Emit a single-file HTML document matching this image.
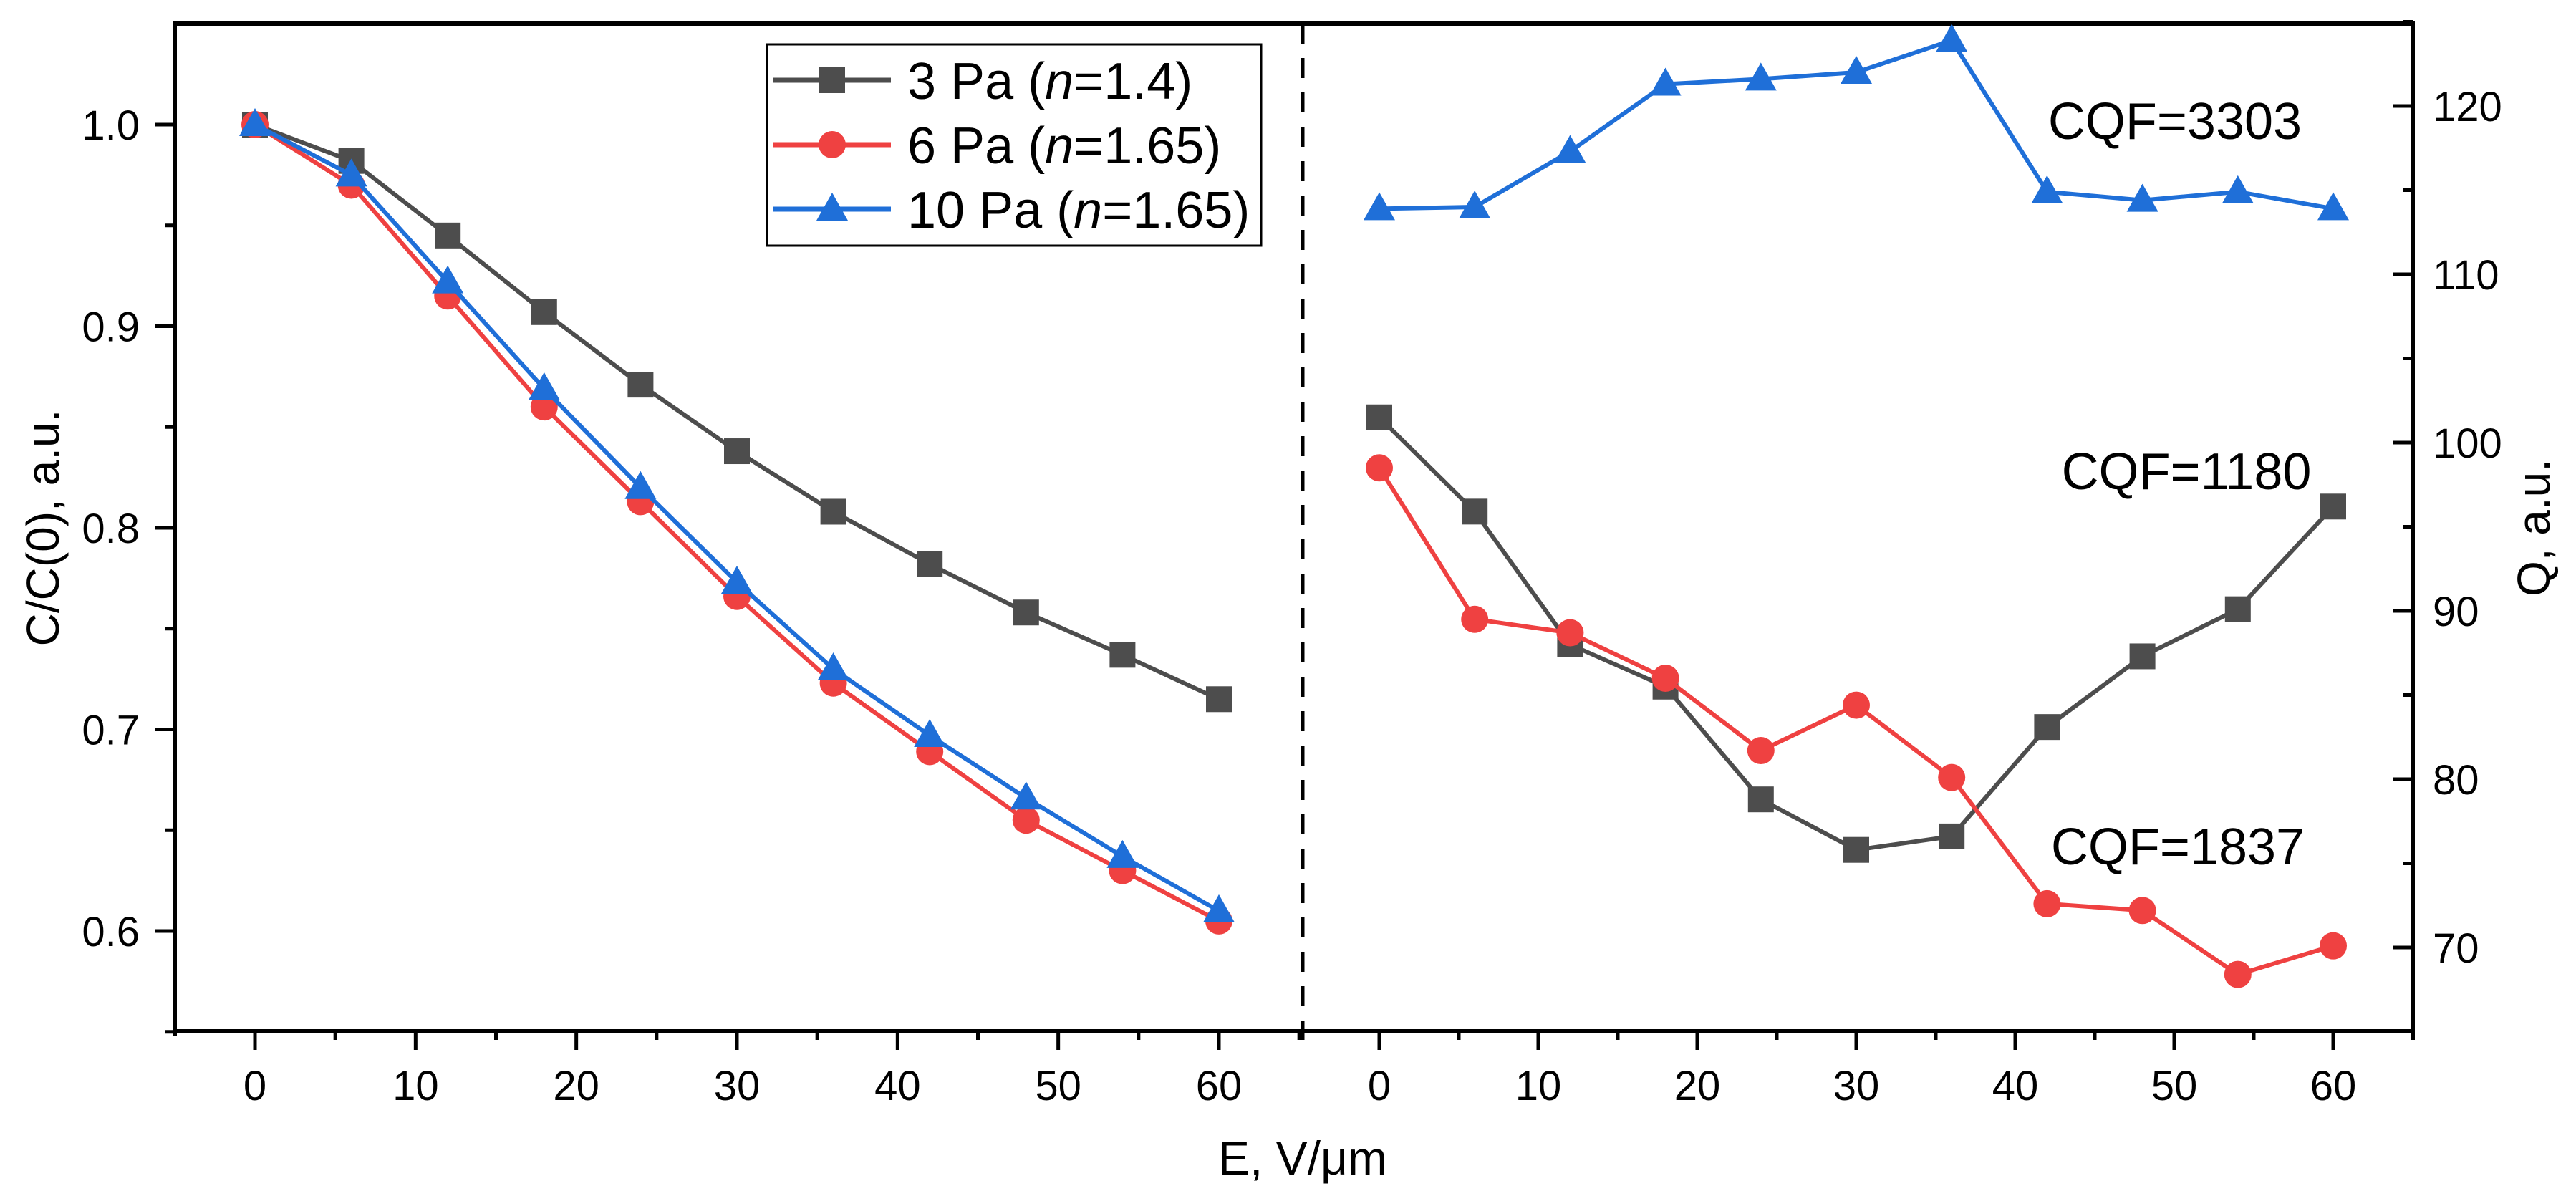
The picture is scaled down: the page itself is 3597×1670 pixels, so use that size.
<!DOCTYPE html>
<html><head><meta charset="utf-8"><style>
html,body{margin:0;padding:0;background:#fff;}
svg{display:block;font-family:"Liberation Sans",sans-serif;}
</style></head><body>
<svg id="chart" width="3597" height="1670" viewBox="0 0 3597 1670">
<g id="axes"></g>
<g id="series"></g>
<g id="legend">
<rect x="1071" y="62" width="690" height="281" fill="#fff" stroke="#000" stroke-width="3"/>
</g>
<text x="3037" y="194" font-size="72" text-anchor="middle">CQF=3303</text>
<text x="3053" y="683" font-size="72" text-anchor="middle">CQF=1180</text>
<text x="3041" y="1207" font-size="72" text-anchor="middle">CQF=1837</text>
<text x="1819" y="1640" font-size="66" text-anchor="middle">E, V/μm</text>
<text transform="translate(82,737) rotate(-90)" font-size="64" text-anchor="middle">C/C(0), a.u.</text>
<text transform="translate(3560,737) rotate(-90)" font-size="64" text-anchor="middle">Q, a.u.</text>
</svg>
<script>
const xValues=[0,6,12,18,24,30,36,42,48,54,60];
const xTicks=[0,10,20,30,40,50,60];
const leftTicks=[0.6,0.7,0.8,0.9,1.0];
const rightTicks=[70,80,90,100,110,120];
const c3Pa=[1.0,0.982,0.945,0.907,0.871,0.838,0.808,0.782,0.758,0.737,0.715];
const c6Pa=[1.0,0.970,0.915,0.860,0.813,0.766,0.723,0.689,0.655,0.630,0.605];
const c10Pa=[1.0,0.975,0.922,0.869,0.820,0.773,0.730,0.697,0.666,0.637,0.610];
const q3Pa=[101.5,95.9,88.0,85.5,78.8,75.8,76.6,83.1,87.3,90.1,96.2];
const q6Pa=[98.5,89.5,88.7,86.0,81.7,84.4,80.1,72.6,72.2,68.4,70.1];
const q10Pa=[113.9,114.0,117.3,121.3,121.6,122.0,123.9,114.9,114.4,114.9,113.9];

const NS="http://www.w3.org/2000/svg";
const L=244,R=3369,T=33,B=1440,MID=1819;
const xl=v=>356+v*(1702-356)/60;
const xr=v=>1926+v*(3258-1926)/60;
const yl=v=>174+(1.0-v)*(1300-174)/0.4;
const yr=v=>1323-(v-70)*23.5;
const GRAY="#4d4d4d",RED="#ef4141",BLUE="#1f6fd8";
function mk(tag,attrs,parent){const e=document.createElementNS(NS,tag);for(const k in attrs)e.setAttribute(k,attrs[k]);parent.appendChild(e);return e;}
const axes=document.getElementById('axes');
const series=document.getElementById('series');
const legend=document.getElementById('legend');

let e;
e=mk('line',{x1:L,y1:T,x2:R,y2:T,stroke:'#000','stroke-width':6},axes);


e=mk('line',{x1:L-3,y1:B,x2:R+3,y2:B,stroke:'#000','stroke-width':6},axes);


e=mk('line',{x1:L,y1:T-3,x2:L,y2:B+6,stroke:'#000','stroke-width':6},axes);


e=mk('line',{x1:R,y1:T-3,x2:R,y2:B+12,stroke:'#000','stroke-width':6},axes);


e=mk('line',{x1:MID,y1:T,x2:MID,y2:B+12,stroke:'#000','stroke-width':5,'stroke-dasharray':'28,20'},axes);



[[xl,'left'],[xr,'right']].forEach(([fx,side])=>{
  for(let v=-5;v<=65;v+=5){
    const x=fx(v);
    if(x<L||x>R) continue;
    const major=v%10===0&&v>=0&&v<=60;
    e=mk('line',{x1:x,y1:B,x2:x,y2:B+(major?26:12),stroke:'#000','stroke-width':5},axes);
    
    
  }
  xTicks.forEach(v=>{
    e=mk('text',{x:fx(v),y:1536,'font-size':58,'text-anchor':'middle'},axes);
    e.textContent=v;
    
    
  });
});
for(let i=0;i<=9;i++){
  const v=0.55+i*0.05;const y=yl(v);
  const major=i%2===1;
  e=mk('line',{x1:L,y1:y,x2:L-(major?27:14),y2:y,stroke:'#000','stroke-width':5},axes);
  
  
}
leftTicks.forEach(v=>{
  e=mk('text',{x:195,y:yl(v)+21,'font-size':58,'text-anchor':'end'},axes);
  e.textContent=v.toFixed(1);
  
  
});
for(let v=65;v<=125;v+=5){
  const y=yr(v);const major=v%10===0;
  e=mk('line',{x1:R,y1:y,x2:R-(major?27:14),y2:y,stroke:'#000','stroke-width':5},axes);
  
  
}
rightTicks.forEach(v=>{
  e=mk('text',{x:3397,y:yr(v)+21,'font-size':58,'text-anchor':'start'},axes);
  e.textContent=v;
  
  
});

function marker(shape,x,y,color,parent){
  let m;
  if(shape==='square') m=mk('rect',{x:x-18,y:y-18,width:36,height:36,fill:color},parent);
  else if(shape==='circle') m=mk('ellipse',{cx:x,cy:y,rx:19,ry:19,fill:color},parent);
  else m=mk('polygon',{points:`${x},${y-23} ${x+22},${y+16} ${x-22},${y+16}`,fill:color},parent);
  return m;
}
function drawSeries(vals,fx,fy,color,shape,name){
  const g=mk('g',{},series);
  
  
  const pts=vals.map((v,i)=>fx(xValues[i])+','+fy(v)).join(' ');
  const pl=mk('polyline',{points:pts,fill:'none',stroke:color,'stroke-width':6,'stroke-linejoin':'round'},g);
  
  
  vals.forEach((v,i)=>{
    const m=marker(shape,fx(xValues[i]),fy(v),color,g);
    
    
  });
}
drawSeries(c3Pa,xl,yl,GRAY,'square','c-3pa-series');
drawSeries(c6Pa,xl,yl,RED,'circle','c-6pa-series');
drawSeries(c10Pa,xl,yl,BLUE,'triangle','c-10pa-series');
drawSeries(q10Pa,xr,yr,BLUE,'triangle','q-10pa-series');
drawSeries(q3Pa,xr,yr,GRAY,'square','q-3pa-series');
drawSeries(q6Pa,xr,yr,RED,'circle','q-6pa-series');

const legItems=[[GRAY,'square','3 Pa (','1.4)'],[RED,'circle','6 Pa (','1.65)'],[BLUE,'triangle','10 Pa (','1.65)']];
legItems.forEach((it,i)=>{
  const cy=112+i*90;
  const g=mk('g',{},legend);
  
  
  mk('line',{x1:1080,y1:cy,x2:1244,y2:cy,stroke:it[0],'stroke-width':7},g);
  marker(it[1],1162,cy,it[0],g);
  const t=mk('text',{x:1267,y:cy+26,'font-size':72},g);
  t.textContent=it[2];
  const ts=mk('tspan',{'font-style':'italic'},t);ts.textContent='n';
  const ts2=mk('tspan',{},t);ts2.textContent='='+it[3];
});
</script>
</body></html>
